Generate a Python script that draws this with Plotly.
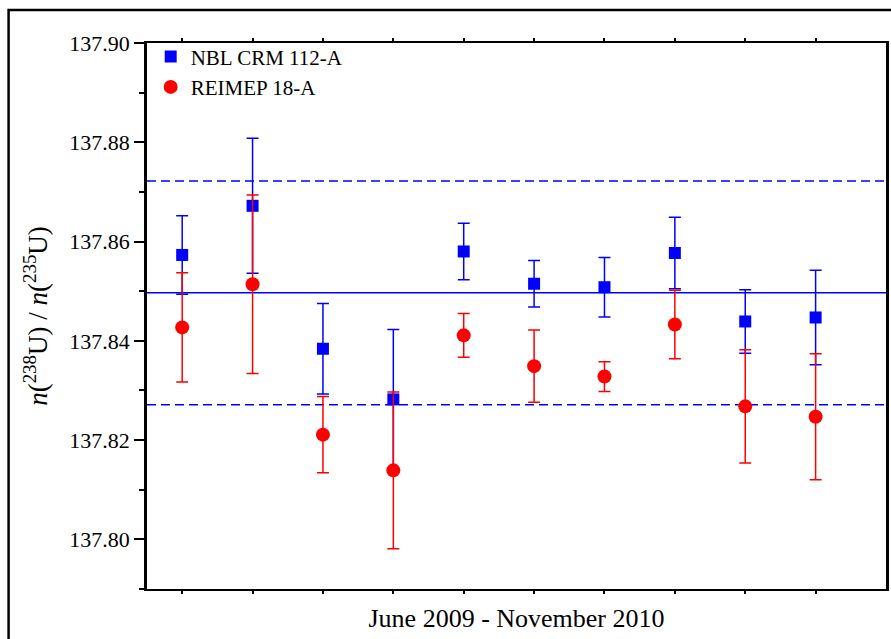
import plotly.graph_objects as go

# Measurement sequence (June 2009 - November 2010)
runs = [1, 2, 3, 4, 5, 6, 7, 8, 9, 10]

# NBL CRM 112-A: ratio and expanded uncertainty
nbl_ratio = [137.8573, 137.8672, 137.8384, 137.8282, 137.8580,
             137.8515, 137.8508, 137.8577, 137.8439, 137.8447]
nbl_unc = [0.0079, 0.0136, 0.0091, 0.0141, 0.0057,
           0.0047, 0.0060, 0.0072, 0.0064, 0.0095]

# REIMEP 18-A: ratio and expanded uncertainty
reimep_ratio = [137.8427, 137.8514, 137.8211, 137.8139, 137.8411,
                137.8349, 137.8328, 137.8433, 137.8268, 137.8247]
reimep_unc = [0.0110, 0.0180, 0.0077, 0.0158, 0.0044,
              0.0073, 0.0030, 0.0069, 0.0114, 0.0127]

# Mean of NBL CRM 112-A and its uncertainty band
ref_mean = 137.8497
ref_upper = 137.8722
ref_lower = 137.8271

y_ticks = [137.80, 137.82, 137.84, 137.86, 137.88, 137.90]

FONT = "'Liberation Serif', 'Times New Roman', 'DejaVu Serif', serif"
BLUE = "#0000FF"
RED = "#FF0000"

fig = go.Figure()

fig.add_trace(go.Scatter(
    x=runs, y=nbl_ratio, mode="markers", name="NBL CRM 112-A",
    marker=dict(symbol="square", size=12, color=BLUE),
    error_y=dict(type="data", array=nbl_unc, visible=True,
                 color=BLUE, thickness=1.5, width=6),
))
fig.add_trace(go.Scatter(
    x=runs, y=reimep_ratio, mode="markers", name="REIMEP 18-A",
    marker=dict(symbol="circle", size=14, color=RED),
    error_y=dict(type="data", array=reimep_unc, visible=True,
                 color=RED, thickness=1.5, width=6),
))

shapes = [
    dict(type="line", xref="paper", x0=0, x1=1, yref="y",
         y0=ref_mean, y1=ref_mean, line=dict(color=BLUE, width=1.5),
         layer="below"),
    dict(type="line", xref="paper", x0=0, x1=1, yref="y",
         y0=ref_upper, y1=ref_upper,
         line=dict(color=BLUE, width=1.5, dash="9px,5px"), layer="below"),
    dict(type="line", xref="paper", x0=0, x1=1, yref="y",
         y0=ref_lower, y1=ref_lower,
         line=dict(color=BLUE, width=1.5, dash="9px,5px"), layer="below"),
    # outer frame around the figure
    dict(type="rect", xref="paper", yref="paper",
         x0=-0.1873, x1=1.02, y0=-0.12, y1=1.0604,
         line=dict(color="black", width=2.5), layer="below"),
]

fig.update_layout(
    width=891, height=639,
    margin=dict(l=147, r=2, t=43, b=50),
    paper_bgcolor="white", plot_bgcolor="white",
    font=dict(family=FONT, size=21, color="black"),
    showlegend=True,
    legend=dict(x=0.005, y=1.012, xanchor="left", yanchor="top",
                bgcolor="rgba(0,0,0,0)", borderwidth=0,
                font=dict(family=FONT, size=21), tracegroupgap=0,
                itemsizing="trace"),
    shapes=shapes,
    xaxis=dict(
        range=[0.5, 11.0], tickmode="array", tickvals=runs,
        showticklabels=False, ticks="outside", ticklen=3, tickwidth=1.5,
        tickcolor="black", showline=True, linecolor="black", linewidth=2,
        mirror="ticks", showgrid=False, zeroline=False,
        title=dict(text="June 2009 - November 2010",
                   font=dict(family=FONT, size=26), standoff=16),
    ),
    yaxis=dict(
        range=[137.79, 137.90], tickmode="array", tickvals=y_ticks,
        ticktext=[f"{v:.2f}" for v in y_ticks],
        ticks="outside", ticklen=10, tickwidth=2, tickcolor="black",
        minor=dict(dtick=0.01, tick0=137.79, ticks="outside", ticklen=5,
                   tickwidth=2, tickcolor="black", showgrid=False),
        showline=True, linecolor="black", linewidth=2.5, mirror=True,
        showgrid=False, zeroline=False,
        tickfont=dict(family=FONT, size=22),
        title=dict(text="<i>n</i>(<sup>238</sup>U) / <i>n</i>(<sup>235</sup>U)",
                   font=dict(family=FONT, size=27), standoff=14),
    ),
)

fig.write_html("out.html")
